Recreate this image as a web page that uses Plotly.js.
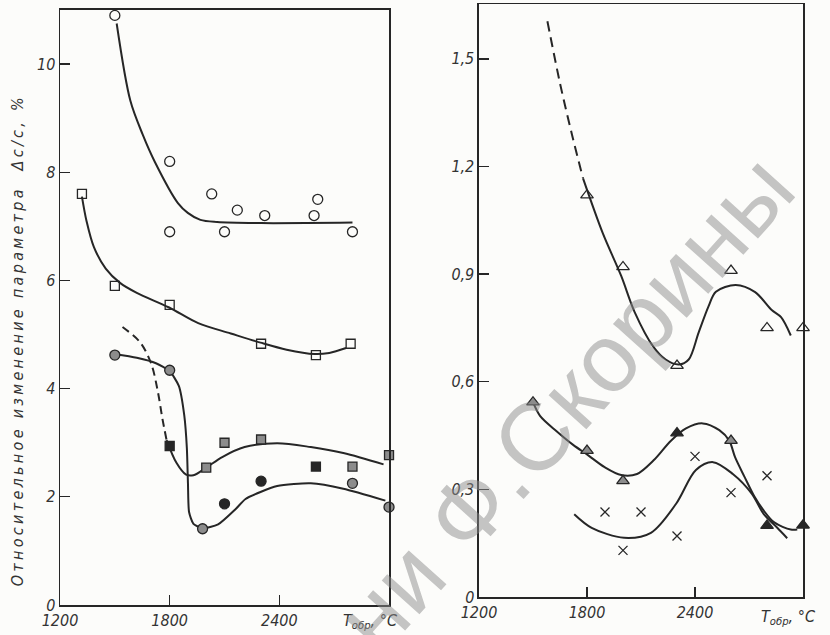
<!DOCTYPE html>
<html>
<head>
<meta charset="utf-8">
<script src="https://cdn.plot.ly/plotly-3.0.1.min.js"></script>
<style>
html,body{margin:0;padding:0;background:#fcfcfa;}
#chart{width:830px;height:635px;}
</style>
</head>
<body>
<div id="chart"></div>
<script>
// ---------- Left panel (Δc/c, %) ----------
const openCircleX = [1500, 1800, 1800, 2030, 2100, 2170, 2320, 2590, 2610, 2800];
const openCircleY = [10.9, 8.2, 6.9, 7.6, 6.9, 7.3, 7.2, 7.2, 7.5, 6.9];
const fitOpenCircleX = [1510, 1585, 1652, 1719, 1845, 1899, 1968, 2060, 2300, 2800];
const fitOpenCircleY = [10.75, 9.32, 8.7, 8.19, 7.43, 7.25, 7.12, 7.08, 7.06, 7.07];

const openSquareX = [1320, 1500, 1800, 2300, 2600, 2790];
const openSquareY = [7.6, 5.9, 5.55, 4.83, 4.62, 4.83];
const fitOpenSquareX = [1320, 1345, 1385, 1450, 1530, 1620, 1797, 1956, 2134, 2297, 2440, 2592, 2673, 2765];
const fitOpenSquareY = [7.55, 7.1, 6.62, 6.22, 5.95, 5.77, 5.5, 5.21, 5.02, 4.85, 4.72, 4.64, 4.66, 4.75];

const grayCircleX = [1500, 1800, 1980, 2800, 3000];
const grayCircleY = [4.62, 4.34, 1.41, 2.25, 1.81];
const blackCircleX = [2100, 2300];
const blackCircleY = [1.87, 2.29];
const fitCircleX = [1495, 1620, 1725, 1800, 1850, 1880, 1894, 1900, 1906, 1930, 1980, 2065, 2160, 2215, 2388, 2572, 2750, 2980];
const fitCircleY = [4.64, 4.57, 4.47, 4.32, 4.05, 3.5, 2.9, 2.25, 1.72, 1.5, 1.42, 1.49, 1.77, 1.96, 2.2, 2.25, 2.15, 1.93];

const graySquareX = [2000, 2100, 2300, 2800, 3000];
const graySquareY = [2.54, 3.0, 3.06, 2.56, 2.77];
const blackSquareX = [1800, 2600];
const blackSquareY = [2.94, 2.56];
const fitSquareDashX = [1542, 1640, 1700, 1735, 1760, 1783];
const fitSquareDashY = [5.14, 4.85, 4.45, 3.95, 3.45, 3.05];
const fitSquareX = [1783, 1837, 1890, 1930, 2000, 2090, 2210, 2388, 2572, 2750, 2970];
const fitSquareY = [3.05, 2.63, 2.41, 2.4, 2.54, 2.74, 2.92, 2.99, 2.92, 2.81, 2.6];

// ---------- Right panel ----------
const openTriX = [1800, 2000, 2300, 2600, 2800, 3000];
const openTriY = [1.12, 0.92, 0.645, 0.91, 0.75, 0.75];
const fitOpenTriDashX = [1580, 1650, 1716, 1778];
const fitOpenTriDashY = [1.605, 1.432, 1.29, 1.167];
const fitOpenTriX = [1778, 1887, 1990, 2064, 2168, 2237, 2310, 2365, 2420, 2475, 2516, 2626, 2734, 2826, 2878, 2932];
const fitOpenTriY = [1.167, 1.015, 0.895, 0.795, 0.698, 0.662, 0.648, 0.662, 0.737, 0.81, 0.851, 0.87, 0.85, 0.8, 0.78, 0.729];

const grayTriX = [1500, 1800, 2000, 2600];
const grayTriY = [0.543, 0.408, 0.324, 0.436];
const blackTriX = [2300, 2800, 3000];
const blackTriY = [0.457, 0.199, 0.2];
const fitTriX = [1500, 1539, 1631, 1723, 1807, 1898, 1990, 2078, 2170, 2265, 2350, 2443, 2535, 2590, 2623, 2675, 2730, 2780, 2840, 2932, 2968];
const fitTriY = [0.543, 0.505, 0.462, 0.424, 0.395, 0.362, 0.34, 0.343, 0.381, 0.435, 0.47, 0.484, 0.465, 0.436, 0.389, 0.335, 0.28, 0.242, 0.208, 0.188, 0.188];

const crossX = [1900, 2000, 2100, 2300, 2400, 2600, 2800];
const crossY = [0.237, 0.13, 0.237, 0.17, 0.392, 0.291, 0.338];
const fitCrossX = [1729, 1826, 2006, 2155, 2295, 2405, 2500, 2610, 2714, 2782, 2857, 2912];
const fitCrossY = [0.231, 0.193, 0.165, 0.179, 0.26, 0.354, 0.376, 0.343, 0.289, 0.231, 0.193, 0.164];

// ticks
const xTickVals = [1200, 1800, 2400];
const xTickText = ['1200', '1800', '2400'];
const yLeftTickVals = [0, 2, 4, 6, 8, 10];
const yLeftTickText = ['0', '2', '4', '6', '8', '10'];
const yRightTickVals = [0, 0.3, 0.6, 0.9, 1.2, 1.5];
const yRightTickText = ['0', '0,3', '0,6', '0,9', '1,2', '1,5'];

const INK = '#262626';
const GRAY = '#8c8c8c';

function curve(x, y, xa, ya, dash, smooth) {
  return {x: x, y: y, xaxis: xa, yaxis: ya, type: 'scatter', mode: 'lines',
    line: {color: INK, width: 2, shape: 'spline', smoothing: smooth || 0.9, dash: dash || 'solid'},
    hoverinfo: 'skip', showlegend: false};
}
function pts(x, y, xa, ya, symbol, size, fill) {
  return {x: x, y: y, xaxis: xa, yaxis: ya, type: 'scatter', mode: 'markers',
    marker: {symbol: symbol, size: size, color: fill || INK, line: {color: INK, width: 1.3}},
    showlegend: false, cliponaxis: false};
}

const data = [
  curve(fitOpenCircleX, fitOpenCircleY, 'x', 'y'),
  curve(fitOpenSquareX, fitOpenSquareY, 'x', 'y'),
  curve(fitCircleX, fitCircleY, 'x', 'y', null, 0.6),
  curve(fitSquareDashX, fitSquareDashY, 'x', 'y', '8px,5px'),
  curve(fitSquareX, fitSquareY, 'x', 'y'),
  pts(openCircleX, openCircleY, 'x', 'y', 'circle-open', 10),
  pts(openSquareX, openSquareY, 'x', 'y', 'square-open', 9),
  pts(grayCircleX, grayCircleY, 'x', 'y', 'circle', 10, GRAY),
  pts(blackCircleX, blackCircleY, 'x', 'y', 'circle', 10, INK),
  pts(graySquareX, graySquareY, 'x', 'y', 'square', 9, GRAY),
  pts(blackSquareX, blackSquareY, 'x', 'y', 'square', 9, INK),

  curve(fitOpenTriDashX, fitOpenTriDashY, 'x2', 'y2', '10px,6px'),
  curve(fitOpenTriX, fitOpenTriY, 'x2', 'y2'),
  curve(fitTriX, fitTriY, 'x2', 'y2'),
  curve(fitCrossX, fitCrossY, 'x2', 'y2'),
  pts(openTriX, openTriY, 'x2', 'y2', 'triangle-up-open', 11),
  pts(grayTriX, grayTriY, 'x2', 'y2', 'triangle-up', 11, GRAY),
  pts(blackTriX, blackTriY, 'x2', 'y2', 'triangle-up', 11, INK),
  pts(crossX, crossY, 'x2', 'y2', 'x-thin-open', 9)
];

const tickFont = {family: 'DejaVu Sans Condensed, DejaVu Sans, sans-serif', size: 16, color: '#333', style: 'italic'};
const axisBase = {
  showline: true, mirror: true, linecolor: INK, linewidth: 1.5,
  ticks: 'inside', ticklen: 10, tickwidth: 1.3, tickcolor: INK,
  showgrid: false, zeroline: false, tickfont: tickFont, fixedrange: true
};

const layout = {
  width: 830, height: 635,
  margin: {l: 0, r: 0, t: 0, b: 0},
  paper_bgcolor: '#fcfcfa', plot_bgcolor: 'rgba(0,0,0,0)',
  showlegend: false,
  xaxis: Object.assign({}, axisBase, {domain: [0.0723, 0.4687], range: [1200, 3000],
    tickvals: xTickVals, ticktext: xTickText, anchor: 'y'}),
  yaxis: Object.assign({}, axisBase, {domain: [0.0472, 0.9843], range: [0, 11],
    tickvals: yLeftTickVals, ticktext: yLeftTickText, anchor: 'x'}),
  xaxis2: Object.assign({}, axisBase, {domain: [0.5771, 0.9675], range: [1200, 3000],
    tickvals: xTickVals, ticktext: xTickText, anchor: 'y2'}),
  yaxis2: Object.assign({}, axisBase, {domain: [0.0598, 0.9937], range: [0, 1.653],
    tickvals: yRightTickVals, ticktext: yRightTickText, anchor: 'x2'}),
  annotations: [
    {text: 'Относительное изменение параметра  Δc/c, %', xref: 'paper', yref: 'paper',
     x: 0.0217, y: 0.4646, textangle: -90, showarrow: false, xanchor: 'center', yanchor: 'middle',
     font: {family: 'DejaVu Sans Condensed, DejaVu Sans, sans-serif', size: 16, color: '#333', style: 'italic'}},
    {text: 'T<sub>обр</sub>, °C', xref: 'x', yref: 'paper', x: 2896, y: 0.022,
     showarrow: false, xanchor: 'center', yanchor: 'middle', font: tickFont},
    {text: 'T<sub>обр</sub>, °C', xref: 'x2', yref: 'paper', x: 2922, y: 0.0283,
     showarrow: false, xanchor: 'center', yanchor: 'middle', font: tickFont},
    {text: 'имени Ф.Скорины', xref: 'paper', yref: 'paper', x: 507/830, y: (635-468)/635,
     textangle: -48, showarrow: false, xanchor: 'center', yanchor: 'middle',
     font: {family: 'Liberation Sans, Arial, sans-serif', size: 96, color: 'rgba(140,140,140,0.5)'}}
  ]
};

Plotly.newPlot('chart', data, layout, {staticPlot: true, displayModeBar: false}).then(function(){
  document.querySelectorAll('.annotation-text').forEach(function(t){
    if (t.textContent.indexOf('Относительное') === 0) t.style.letterSpacing = '3.3px';
  });
});
</script>
</body>
</html>
